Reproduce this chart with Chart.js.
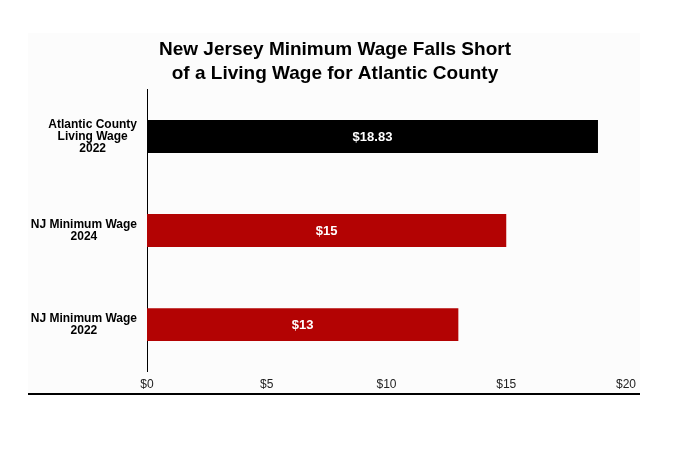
<!DOCTYPE html>
<html>
<head>
<meta charset="utf-8">
<script src="https://cdn.jsdelivr.net/npm/chart.js@4/dist/chart.umd.min.js"></script>
<style>
  html, body { margin: 0; padding: 0; background: #ffffff; }
  body { width: 690px; height: 464px; position: relative; overflow: hidden; }
  #panel { position: absolute; left: 28px; top: 33px; width: 612px; height: 360px;
           background: #fcfcfc; border-bottom: 2px solid #000; }
  canvas { display: block; }
</style>
</head>
<body>
<div id="panel"><canvas id="c" width="612" height="360"></canvas></div>
<script>
const titleLines = ['New Jersey Minimum Wage Falls Short', 'of a Living Wage for Atlantic County'];
const categories = [
  ['Atlantic County', 'Living Wage', '2022'],
  ['NJ Minimum Wage', '2024'],
  ['NJ Minimum Wage', '2022']
];
const wages = [18.83, 15, 13];
const xTickValues = [0, 5, 10, 15, 20];

const FONT = '"Liberation Sans", Arial, Helvetica, sans-serif';
const barColors = ['#000000', '#b30303', '#b30303'];

const fmt = v => '$' + (Number.isInteger(v) ? v : v.toFixed(2));

const customLabels = {
  id: 'customLabels',
  afterDatasetsDraw(chart) {
    const ctx = chart.ctx;
    const meta = chart.getDatasetMeta(0);
    ctx.save();
    ctx.font = 'bold 13px ' + FONT;
    ctx.fillStyle = '#ffffff';
    ctx.textAlign = 'center';
    ctx.textBaseline = 'middle';
    meta.data.forEach((bar, i) => {
      const x = (bar.x + bar.base) / 2;
      ctx.fillText(fmt(wages[i]), x, bar.y + 1);
    });
    ctx.restore();
  },
  afterDraw(chart) {
    const ctx = chart.ctx;
    const ys = chart.scales.y;
    const lh = 11.8;
    const right = ys.right - 10;
    ctx.save();
    ctx.font = 'bold 12px ' + FONT;
    ctx.fillStyle = '#000000';
    ctx.textAlign = 'center';
    ctx.textBaseline = 'middle';
    categories.forEach((lines, i) => {
      const y = ys.getPixelForTick(i);
      const w = Math.max(...lines.map(l => ctx.measureText(l).width));
      const cx = right - w / 2;
      const y0 = y - (lines.length - 1) * lh / 2;
      lines.forEach((l, j) => ctx.fillText(l, cx, y0 + j * lh));
    });
    ctx.restore();
  }
};

new Chart(document.getElementById('c'), {
  type: 'bar',
  data: {
    labels: categories,
    datasets: [{
      data: wages,
      backgroundColor: barColors,
      borderWidth: 0,
      categoryPercentage: 1,
      barPercentage: 0.35
    }]
  },
  options: {
    indexAxis: 'y',
    responsive: false,
    animation: false,
    devicePixelRatio: 1,
    layout: { padding: { left: 16, right: 14, top: 0, bottom: -5 } },
    plugins: {
      legend: { display: false },
      tooltip: { enabled: false },
      title: {
        display: true,
        text: titleLines,
        color: '#000000',
        font: { family: FONT, size: 19, weight: 'bold', lineHeight: 1.25 },
        padding: { top: 5, bottom: 4 }
      }
    },
    scales: {
      x: {
        min: 0,
        max: 20,
        afterBuildTicks(scale) { scale.ticks = xTickValues.map(v => ({ value: v })); },
        afterFit(scale) { scale.paddingLeft = 0; scale.paddingRight = 0; },
        grid: { display: false, drawTicks: false },
        border: { display: false },
        ticks: {
          color: '#222222',
          padding: 6,
          font: { family: FONT, size: 12 },
          callback: v => '$' + v
        }
      },
      y: {
        grid: { display: false, drawTicks: false },
        border: { display: true, color: '#000000', width: 1 },
        ticks: { display: false },
        afterFit(scale) { scale.width = 103; }
      }
    }
  },
  plugins: [customLabels]
});
</script>
</body>
</html>
